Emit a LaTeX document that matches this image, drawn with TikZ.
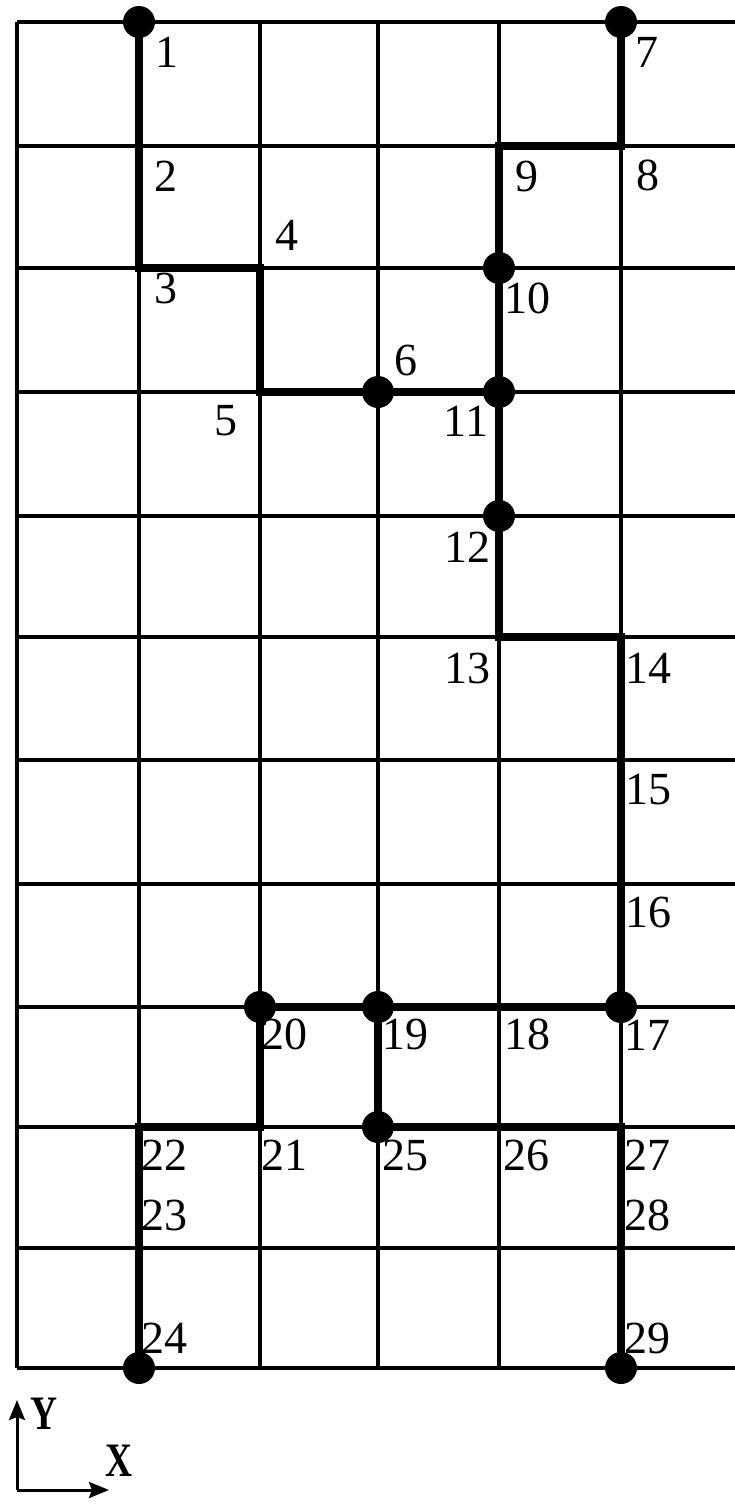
\documentclass[tikz,border=0pt]{standalone}
\usepackage{fontspec}
\setmainfont{Liberation Serif}
\newfontfamily\axfont[FakeStretch=0.78]{Liberation Serif}
\usetikzlibrary{arrows.meta}
\tikzset{
  gridline/.style={line width=3.4pt, black},
  route/.style={line width=7.5pt, black},
  dot/.style={circle, fill=black, inner sep=0pt, minimum size=32pt},
  lab/.style={inner sep=0pt, anchor=center, font=\fontsize{46}{46}\selectfont},
  axlab/.style={inner sep=0pt, anchor=center, font=\axfont\bfseries\fontsize{48}{48}\selectfont},
  axarrow/.style={line width=3pt, -{Stealth[length=20pt,width=16pt,inset=3pt]}}
}
\begin{document}
\begin{tikzpicture}[x=1pt,y=-1pt]
\useasboundingbox (0,0) rectangle (735,1504);
% grid
\foreach \yy in {22,146,268,392,516,637,760,884,1007,1127,1248,1368}
  \draw[gridline] (17,\yy) -- (735,\yy);
\foreach \xx in {17,139,260,378,499,621}
  \draw[gridline] (\xx,22) -- (\xx,1368);
% grid points
\coordinate (p1) at (139,22);
\coordinate (p2) at (139,146);
\coordinate (p3) at (139,268);
\coordinate (p4) at (260,268);
\coordinate (p5) at (260,392);
\coordinate (p6) at (378,392);
\coordinate (p7) at (621,22);
\coordinate (p8) at (621,146);
\coordinate (p9) at (499,146);
\coordinate (p10) at (499,268);
\coordinate (p11) at (499,392);
\coordinate (p12) at (499,516);
\coordinate (p13) at (499,637);
\coordinate (p14) at (621,637);
\coordinate (p15) at (621,760);
\coordinate (p16) at (621,884);
\coordinate (p17) at (621,1007);
\coordinate (p18) at (499,1007);
\coordinate (p19) at (378,1007);
\coordinate (p20) at (260,1007);
\coordinate (p21) at (260,1127);
\coordinate (p22) at (139,1127);
\coordinate (p23) at (139,1248);
\coordinate (p24) at (139,1368);
\coordinate (p25) at (378,1127);
\coordinate (p26) at (499,1127);
\coordinate (p27) at (621,1127);
\coordinate (p28) at (621,1248);
\coordinate (p29) at (621,1368);
% routes
\draw[route] (p1) -- (p2) -- (p3) -- (p4) -- (p5) -- (p6) -- (p11);
\draw[route] (p7) -- (p8) -- (p9) -- (p10) -- (p11) -- (p12) -- (p13) -- (p14)
  -- (p15) -- (p16) -- (p17) -- (p18) -- (p19) -- (p20) -- (p21) -- (p22) -- (p23) -- (p24);
\draw[route] (p19) -- (p25) -- (p26) -- (p27) -- (p28) -- (p29);
% dots
\foreach \p in {p1,p7,p10,p6,p11,p12,p20,p19,p17,p25,p24,p29}
  \node[dot] (d\p) at (\p) {};
% labels
\node[lab] (l1) at (167,52) {1};
\node[lab] (l2) at (166,176) {2};
\node[lab] (l3) at (166,288) {3};
\node[lab] (l4) at (287,235) {4};
\node[lab] (l5) at (226,421) {5};
\node[lab] (l6) at (406,360) {6};
\node[lab] (l7) at (647,52) {7};
\node[lab] (l8) at (648,175) {8};
\node[lab] (l9) at (527,176) {9};
\node[lab] (l10) at (527,298) {10};
\node[lab] (l11) at (466,421) {11};
\node[lab] (l12) at (467,547) {12};
\node[lab] (l13) at (467,668) {13};
\node[lab] (l14) at (648,668) {14};
\node[lab] (l15) at (648,790) {15};
\node[lab] (l16) at (648,912) {16};
\node[lab] (l17) at (647,1035) {17};
\node[lab] (l18) at (527,1034) {18};
\node[lab] (l19) at (405,1034) {19};
\node[lab] (l20) at (284,1034) {20};
\node[lab] (l21) at (284,1155) {21};
\node[lab] (l22) at (164,1155) {22};
\node[lab] (l23) at (164,1215) {23};
\node[lab] (l24) at (164,1338) {24};
\node[lab] (l25) at (405,1155) {25};
\node[lab] (l26) at (526,1155) {26};
\node[lab] (l27) at (647,1155) {27};
\node[lab] (l28) at (647,1215) {28};
\node[lab] (l29) at (647,1338) {29};
% axes
\coordinate (o) at (17,1490);
\coordinate (ytip) at (17,1400);
\coordinate (xtip) at (109,1490);
\draw[axarrow] (o) -- (ytip);
\draw[axarrow] (o) -- (xtip);
\node[axlab] (ly) at (44,1414) {Y};
\node[axlab] (lx) at (119,1461) {X};
\end{tikzpicture}
\end{document}
